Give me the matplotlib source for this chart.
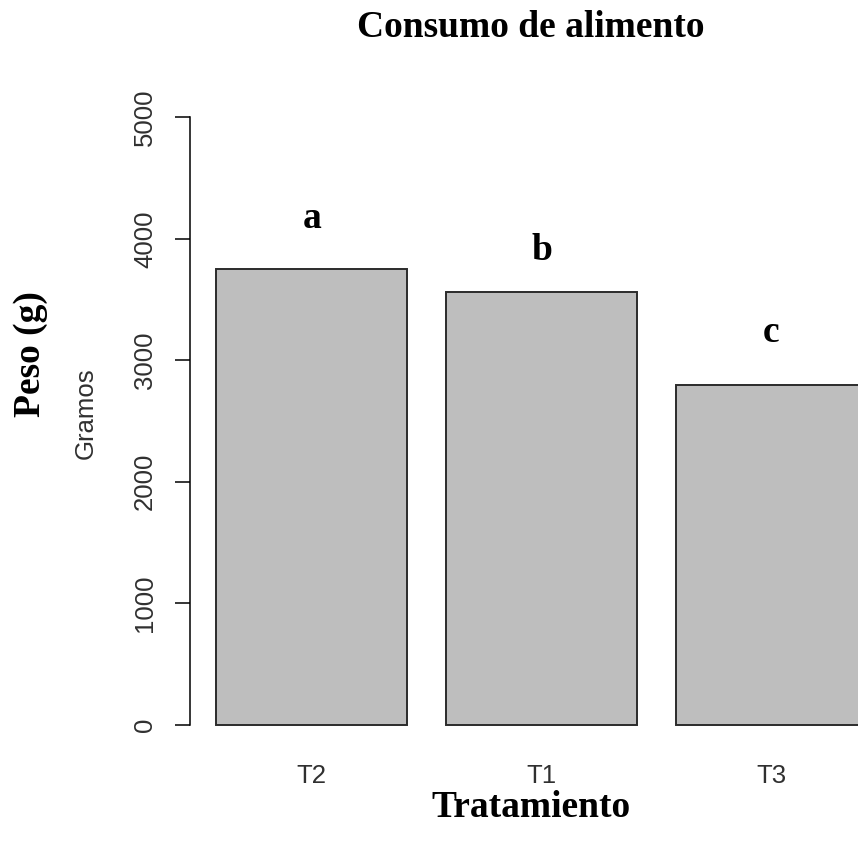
import matplotlib.pyplot as plt

# Data
treatments = ["T2", "T1", "T3"]
consumo = [3755, 3560, 2800]
letters = ["a", "b", "c"]
letter_y = [4085, 3825, 3150]

bar_color = "#bebebe"
text_gray = "#303030"
serif = "Liberation Serif"
sans = "Liberation Sans"

W, H = 858, 846
fig = plt.figure(figsize=(W / 100, H / 100), dpi=100)
# plot region like R barplot (extends a bit past the right edge)
ax = fig.add_axes([190 / W, 97 / H, 703 / W, 656 / H])

# R barplot positions: width 1, space 0.2
xpos = [0.7 + 1.2 * i for i in range(len(treatments))]
ax.bar(xpos, consumo, width=1.0, color=bar_color, edgecolor="#2b2b2b", linewidth=1.4)

ax.set_xlim(0.064, 3.736)
ax.set_ylim(-200, 5200)

for s in ["top", "right", "bottom"]:
    ax.spines[s].set_visible(False)
ax.spines["left"].set_bounds(0, 5000)
ax.spines["left"].set_linewidth(1.1)

ax.set_yticks(range(0, 5001, 1000))
ax.set_yticklabels([str(v) for v in range(0, 5001, 1000)], rotation=90, va="center",
                   fontfamily=sans)
ax.tick_params(axis="y", length=10.8, width=1.1, pad=13, labelsize=18.5, labelcolor=text_gray)

ax.set_xticks(xpos)
ax.set_xticklabels(treatments, fontfamily=sans)
ax.tick_params(axis="x", length=0, pad=11, labelsize=18.5, labelcolor=text_gray)

# significance letters
for xi, lab, yi in zip(xpos, letters, letter_y):
    ax.text(xi, yi, lab, ha="center", va="baseline", fontsize=27,
            fontweight="bold", fontfamily=serif)

fig.text(531 / W, 1 - 37 / H, "Consumo de alimento", ha="center", va="baseline",
         fontsize=27, fontweight="bold", fontfamily=serif)
fig.text(531 / W, 1 - 817 / H, "Tratamiento", ha="center", va="baseline",
         fontsize=27, fontweight="bold", fontfamily=serif)
fig.text(30 / W, 1 - 354 / H, "Peso (g)", ha="center", va="center", rotation=90,
         fontsize=27, fontweight="bold", fontfamily=serif)
fig.text(86 / W, 1 - 413 / H, "Gramos", ha="center", va="center", rotation=90,
         fontsize=18.5, color=text_gray, fontfamily=sans)

fig.savefig("out.png", dpi=100)
